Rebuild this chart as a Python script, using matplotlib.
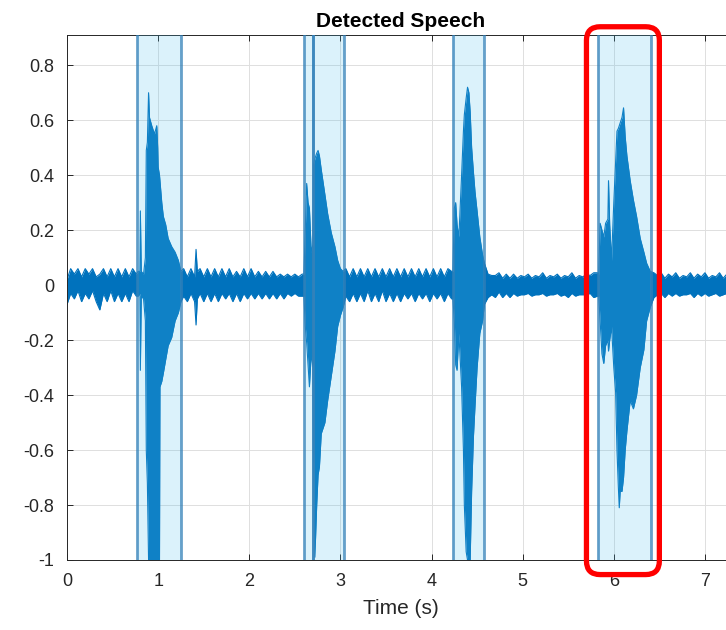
import numpy as np
import matplotlib
matplotlib.use("Agg")
import matplotlib.pyplot as plt
from matplotlib.patches import FancyBboxPatch

plt.rcParams['font.family'] = ['Liberation Sans', 'DejaVu Sans']

# waveform envelope (time in s, upper / lower amplitude)
wave_t = [
    0.00, 0.04, 0.08, 0.12, 0.16, 0.20, 0.24, 0.28, 0.32, 0.36, 0.40, 0.44, 0.48, 0.52, 0.56, 0.60, 0.64, 0.68, 0.72, 0.76,
    0.78, 0.80, 0.805, 0.815, 0.84, 0.86, 0.87, 0.882, 0.895, 0.905, 0.93, 0.96, 0.985, 0.995, 1.00, 1.015, 1.02, 1.04,
    1.057, 1.083, 1.11, 1.149, 1.186, 1.222, 1.25,
    1.28, 1.32, 1.36, 1.40, 1.416, 1.43, 1.46, 1.50, 1.54, 1.58, 1.62, 1.66, 1.70, 1.74, 1.78, 1.82, 1.86, 1.90, 1.94,
    1.98, 2.02, 2.06, 2.10, 2.14, 2.18, 2.22, 2.26, 2.30, 2.34, 2.38, 2.42, 2.46, 2.50, 2.54, 2.58,
    2.60, 2.615, 2.63, 2.645, 2.66, 2.68, 2.70, 2.705, 2.72, 2.74, 2.755, 2.77, 2.79, 2.83, 2.86, 2.90, 2.94, 2.97,
    3.00, 3.03,
    3.06, 3.10, 3.14, 3.18, 3.22, 3.26, 3.30, 3.34, 3.38, 3.42, 3.46, 3.50, 3.54, 3.58, 3.62, 3.66, 3.70, 3.74, 3.78,
    3.82, 3.86, 3.90, 3.94, 3.98, 4.02, 4.06, 4.10, 4.14, 4.18, 4.22,
    4.235, 4.25, 4.265, 4.28, 4.30, 4.33, 4.35, 4.36, 4.38, 4.395, 4.41, 4.424, 4.44, 4.46, 4.477, 4.50, 4.53, 4.56,
    4.58,
    4.62, 4.66, 4.70, 4.74, 4.78, 4.82, 4.86, 4.90, 4.94, 4.98, 5.02, 5.06, 5.10, 5.14, 5.18, 5.22, 5.26, 5.30, 5.34,
    5.38, 5.42, 5.46, 5.50, 5.54, 5.58, 5.62, 5.66, 5.70, 5.74, 5.78, 5.82,
    5.835, 5.85, 5.87, 5.89, 5.91, 5.935, 5.942, 5.955, 5.975, 6.00, 6.02, 6.035, 6.05, 6.06, 6.07, 6.09, 6.107,
    6.125, 6.144, 6.18, 6.215, 6.25, 6.29, 6.33, 6.36, 6.40,
    6.44, 6.48, 6.52, 6.56, 6.60, 6.64, 6.68, 6.72, 6.76, 6.80, 6.84, 6.88, 6.92, 6.96, 7.00, 7.04, 7.08, 7.12, 7.16,
    7.20, 7.24, 7.28, 7.33,
]
wave_hi = [
    0.02, 0.06, 0.04, 0.06, 0.03, 0.06, 0.04, 0.06, 0.03, 0.04, 0.06, 0.03, 0.06, 0.03, 0.06, 0.03, 0.06, 0.03, 0.06, 0.04,
    0.05, 0.05, 0.27, 0.05, 0.04, 0.10, 0.49, 0.52, 0.70, 0.61, 0.58, 0.55, 0.58, 0.50, 0.43, 0.40, 0.38, 0.30,
    0.25, 0.22, 0.17, 0.14, 0.12, 0.09, 0.05,
    0.06, 0.03, 0.06, 0.03, 0.13, 0.05, 0.06, 0.03, 0.06, 0.03, 0.06, 0.03, 0.06, 0.03, 0.06, 0.03, 0.05, 0.03, 0.06,
    0.03, 0.06, 0.03, 0.05, 0.03, 0.05, 0.03, 0.05, 0.03, 0.04, 0.03, 0.04, 0.03, 0.04, 0.03, 0.04,
    0.04, 0.20, 0.37, 0.30, 0.28, 0.12, 0.15, 0.44, 0.46, 0.48, 0.49, 0.47, 0.42, 0.33, 0.26, 0.19, 0.14, 0.09,
    0.06, 0.05,
    0.06, 0.03, 0.06, 0.03, 0.06, 0.03, 0.06, 0.03, 0.06, 0.03, 0.06, 0.03, 0.06, 0.03, 0.06, 0.03, 0.06, 0.03, 0.06,
    0.03, 0.06, 0.03, 0.06, 0.03, 0.06, 0.03, 0.06, 0.03, 0.06, 0.05,
    0.05, 0.28, 0.30, 0.22, 0.175, 0.40, 0.56, 0.62, 0.68, 0.72, 0.70, 0.63, 0.50, 0.41, 0.34, 0.27, 0.175, 0.11,
    0.08,
    0.04, 0.035, 0.035, 0.045, 0.025, 0.04, 0.025, 0.04, 0.025, 0.035, 0.03, 0.04, 0.025, 0.035, 0.03, 0.045, 0.025, 0.035, 0.03,
    0.04, 0.025, 0.035, 0.03, 0.045, 0.025, 0.035, 0.03, 0.04, 0.035, 0.045, 0.045,
    0.04, 0.225, 0.20, 0.175, 0.225, 0.24, 0.38, 0.22, 0.09, 0.30, 0.45, 0.56, 0.57, 0.58, 0.59, 0.61, 0.645,
    0.54, 0.47, 0.38, 0.31, 0.25, 0.17, 0.12, 0.08, 0.05,
    0.045, 0.035, 0.045, 0.025, 0.04, 0.03, 0.045, 0.025, 0.035, 0.03, 0.045, 0.025, 0.04, 0.03, 0.045, 0.025, 0.035, 0.03, 0.045,
    0.025, 0.04, 0.03, 0.035,
]
wave_lo = [
    -0.07, -0.03, -0.05, -0.02, -0.06, -0.03, -0.05, -0.02, -0.06, -0.09, -0.03, -0.06, -0.02, -0.06, -0.03, -0.06, -0.03, -0.06, -0.02, -0.04,
    -0.04, -0.03, -0.31, -0.04, -0.05, -0.13, -0.60, -0.72, -1.00, -1.00, -1.00, -1.00, -1.00, -1.00, -1.00, -1.00, -0.37, -0.35,
    -0.32, -0.27, -0.22, -0.19, -0.13, -0.10, -0.06,
    -0.04, -0.06, -0.03, -0.06, -0.145, -0.05, -0.03, -0.06, -0.03, -0.06, -0.03, -0.06, -0.03, -0.05, -0.03, -0.06, -0.03, -0.06, -0.03,
    -0.05, -0.03, -0.05, -0.03, -0.05, -0.03, -0.05, -0.03, -0.05, -0.03, -0.05, -0.03, -0.04, -0.03, -0.04, -0.04,
    -0.04, -0.15, -0.21, -0.29, -0.37, -0.25, -0.30, -0.60, -0.99, -0.80, -0.69, -0.66, -0.54, -0.50, -0.42, -0.33, -0.24, -0.15,
    -0.11, -0.08,
    -0.04, -0.06, -0.03, -0.06, -0.03, -0.06, -0.02, -0.06, -0.03, -0.06, -0.02, -0.06, -0.03, -0.06, -0.03, -0.06, -0.03, -0.05, -0.03,
    -0.06, -0.03, -0.05, -0.03, -0.06, -0.03, -0.05, -0.03, -0.06, -0.03, -0.05,
    -0.05, -0.13, -0.29, -0.31, -0.175, -0.37, -0.60, -0.80, -0.97, -1.00, -1.00, -1.00, -0.75, -0.55, -0.44, -0.30, -0.175, -0.13,
    -0.07,
    -0.045, -0.035, -0.045, -0.025, -0.045, -0.03, -0.045, -0.03, -0.04, -0.035, -0.035, -0.03, -0.04, -0.035, -0.035, -0.03, -0.04, -0.035, -0.035,
    -0.03, -0.04, -0.035, -0.045, -0.03, -0.04, -0.035, -0.035, -0.035, -0.03, -0.045, -0.04,
    -0.04, -0.13, -0.25, -0.285, -0.22, -0.20, -0.24, -0.20, -0.15, -0.30, -0.39, -0.60, -0.735, -0.81, -0.75, -0.75, -0.70,
    -0.60, -0.53, -0.42, -0.45, -0.40, -0.30, -0.235, -0.13, -0.08,
    -0.045, -0.035, -0.03, -0.045, -0.03, -0.04, -0.03, -0.04, -0.035, -0.035, -0.03, -0.045, -0.03, -0.04, -0.03, -0.04, -0.035, -0.03, -0.04,
    -0.035, -0.03, -0.04, -0.035,
]

# detected speech regions (s)
speech_start = [0.772, 2.605, 2.704, 4.234, 5.832]
speech_end = [1.255, 2.704, 3.035, 4.577, 6.407]

# highlighted region (red box), in seconds / amplitude
box_t = [5.70, 6.50]
box_y = [-1.053, 0.94]

xticks = [0, 1, 2, 3, 4, 5, 6, 7]
yticks = [-1, -0.8, -0.6, -0.4, -0.2, 0, 0.2, 0.4, 0.6, 0.8]
ytick_labels = ['-1', '-0.8', '-0.6', '-0.4', '-0.2', '0', '0.2', '0.4', '0.6', '0.8']

fig = plt.figure(figsize=(7.26, 6.30), dpi=100)
ax = fig.add_axes([67 / 726, 70 / 630, (735 - 67) / 726, 525 / 630])

wave_col = '#0072BD'
ax.fill_between(wave_t, wave_lo, wave_hi, color=wave_col, lw=0, zorder=2)
ax.plot(wave_t, wave_hi, color=wave_col, lw=0.8, zorder=2)
ax.plot(wave_t, wave_lo, color=wave_col, lw=0.8, zorder=2)

edge_col = (0.2, 0.5, 0.72, 0.75)
for s, e in zip(speech_start, speech_end):
    ax.axvspan(s, e, facecolor=(0.30, 0.745, 0.933, 0.2), lw=0, zorder=3)
    ax.axvline(s, color=edge_col, lw=2, zorder=3)
    ax.axvline(e, color=edge_col, lw=2, zorder=3)

ax.set_xlim(0, 7.33)
ax.set_ylim(-1, 0.91)
ax.set_xticks(xticks)
ax.set_yticks(yticks)
ax.set_yticklabels(ytick_labels)
ax.grid(True, color='#dedede', lw=0.7)
ax.set_axisbelow(True)
ax.tick_params(direction='in', length=4, width=0.7, colors='#262626',
               labelsize=13, top=True, right=True)
ax.tick_params(axis='y', pad=9)
ax.tick_params(axis='x', pad=9)
for sp in ax.spines.values():
    sp.set_color('#262626')
    sp.set_linewidth(0.7)

ax.set_xlabel('Time (s)', fontsize=15, color='#262626', labelpad=7)
ax.set_title('Detected Speech', fontsize=15, fontweight='bold', pad=6)

# red rounded box around the last region
box = FancyBboxPatch((box_t[0], box_y[0]), box_t[1] - box_t[0], box_y[1] - box_y[0],
                     boxstyle='round,pad=0,rounding_size=0.15',
                     mutation_aspect=91.1 / 275, fill=False,
                     edgecolor='#ff0000', lw=3.8, clip_on=False, zorder=5)
ax.add_patch(box)

fig.savefig('out.png', dpi=100)
